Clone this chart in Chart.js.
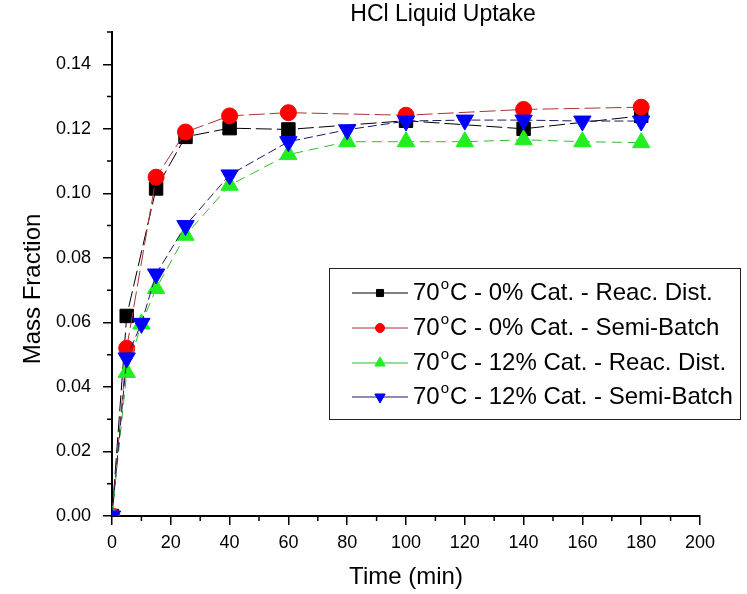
<!DOCTYPE html>
<html>
<head>
<meta charset="utf-8">
<script src="https://cdn.jsdelivr.net/npm/chart.js@4.4.1/dist/chart.umd.min.js"></script>
<style>
  html, body { margin: 0; padding: 0; background: #fff; }
</style>
</head>
<body>
<canvas id="grafico" width="747" height="594"></canvas>
<script>
// Datos (tiempo en min, fraccion masica)
const tiempoNegro = [0, 5, 15, 25, 40, 60, 100, 140, 180];
const masaNegro = [0, 0.062, 0.1015, 0.1175, 0.1202, 0.1198, 0.1225, 0.1200, 0.1240];

const tiempoRojo = [0, 5, 15, 25, 40, 60, 100, 140, 180];
const masaRojo = [0, 0.052, 0.105, 0.119, 0.124, 0.125, 0.1242, 0.126, 0.1267];

const tiempoVerde = [0, 5, 10, 15, 25, 40, 60, 80, 100, 120, 140, 160, 180];
const masaVerde = [0, 0.0445, 0.0595, 0.0705, 0.087, 0.1025, 0.112, 0.116, 0.116, 0.116, 0.1166, 0.116, 0.1157];

const tiempoAzul = [0, 5, 10, 15, 25, 40, 60, 80, 100, 120, 140, 160, 180];
const masaAzul = [0, 0.049, 0.0597, 0.075, 0.090, 0.1057, 0.116, 0.1197, 0.1224, 0.1227, 0.1227, 0.1224, 0.1224];

const nombres = [
  'C - 0% Cat. - Reac. Dist.',
  'C - 0% Cat. - Semi-Batch',
  'C - 12% Cat. - Reac. Dist.',
  'C - 12% Cat. - Semi-Batch'
];
const marcasX = [0, 20, 40, 60, 80, 100, 120, 140, 160, 180, 200];
const menoresX = [10, 30, 50, 70, 90, 110, 130, 150, 170, 190];
const marcasY = [0, 0.02, 0.04, 0.06, 0.08, 0.10, 0.12, 0.14];
const menoresY = [0.01, 0.03, 0.05, 0.07, 0.09, 0.11, 0.13, 0.15];

const FUENTE = '"Liberation Sans", Arial, sans-serif';

// Estilo de cada serie
const estilos = [
  { punto: 'rect', rot: 0, relleno: '#000000', linea: '#000000', guion: [16, 5], radio: 9.5, radioLeyenda: 5, orden: 4 },
  { punto: 'circle', rot: 0, relleno: '#ff0000', linea: '#a83232', guion: [16, 5], radio: 8, radioLeyenda: 4.5, orden: 3 },
  { punto: 'triangle', rot: 0, relleno: '#22ee22', linea: '#33bb33', guion: [10, 6], radio: 10, radioLeyenda: 6, orden: 2 },
  { punto: 'triangle', rot: 180, relleno: '#0000ff', linea: '#1a1a66', guion: [9, 4], radio: 10, radioLeyenda: 6, orden: 1 }
];

const tiempos = [tiempoNegro, tiempoRojo, tiempoVerde, tiempoAzul];
const masas = [masaNegro, masaRojo, masaVerde, masaAzul];

const datasets = estilos.map((e, i) => ({
  label: '70°' + nombres[i],
  data: tiempos[i].map((t, k) => ({ x: t, y: masas[i][k] })),
  showLine: true,
  borderColor: e.linea,
  borderWidth: 1,
  borderDash: e.guion,
  pointStyle: e.punto,
  pointRotation: e.rot,
  pointRadius: e.radio,
  pointHoverRadius: e.radio,
  pointBackgroundColor: e.relleno,
  pointBorderColor: e.relleno,
  pointBorderWidth: 1,
  order: e.orden,
  clip: 0
}));

// Titulo, eje Y, marcas menores y leyenda
const decoraciones = {
  id: 'decoraciones',
  afterDraw(chart) {
    const ctx = chart.ctx;
    const { x, y } = chart.scales;
    ctx.save();
    ctx.fillStyle = '#000';
    ctx.textAlign = 'center';
    ctx.textBaseline = 'middle';
    ctx.font = '23px ' + FUENTE;
    ctx.fillText('HCl Liquid Uptake', 443, 15);

    ctx.save();
    ctx.translate(33, 289);
    ctx.rotate(-Math.PI / 2);
    ctx.font = '24px ' + FUENTE;
    ctx.fillText('Mass Fraction', 0, 0);
    ctx.restore();

    // marcas menores
    ctx.strokeStyle = '#000';
    ctx.lineWidth = 1.5;
    ctx.beginPath();
    menoresX.forEach(v => {
      const px = x.getPixelForValue(v);
      ctx.moveTo(px, y.bottom);
      ctx.lineTo(px, y.bottom + 5);
    });
    menoresY.forEach(v => {
      const py = y.getPixelForValue(v);
      ctx.moveTo(x.left, py);
      ctx.lineTo(x.left - 5, py);
    });
    ctx.stroke();

    // leyenda
    ctx.lineWidth = 1;
    ctx.strokeStyle = '#222';
    ctx.strokeRect(329.5, 268.5, 411, 151);
    const filas = [293, 328, 363, 397];
    estilos.forEach((e, i) => {
      const fy = filas[i];
      ctx.strokeStyle = e.linea;
      ctx.setLineDash([]);
      ctx.beginPath();
      ctx.moveTo(352, fy);
      ctx.lineTo(408, fy);
      ctx.stroke();
      ctx.fillStyle = e.relleno;
      ctx.strokeStyle = e.relleno;
      Chart.helpers.drawPoint(ctx, {
        pointStyle: e.punto, rotation: e.rot, radius: e.radioLeyenda, borderWidth: 1
      }, 380, fy);
      ctx.fillStyle = '#000';
      ctx.textAlign = 'left';
      ctx.textBaseline = 'middle';
      ctx.font = '24px ' + FUENTE;
      let tx = 413;
      ctx.fillText('70', tx, fy);
      tx += ctx.measureText('70').width + 1;
      ctx.font = '15px ' + FUENTE;
      ctx.fillText('o', tx, fy - 8);
      tx += ctx.measureText('o').width + 1;
      ctx.font = '24px ' + FUENTE;
      ctx.fillText(nombres[i], tx, fy);
    });
    ctx.restore();
  }
};

new Chart(document.getElementById('grafico'), {
  type: 'scatter',
  data: { datasets },
  plugins: [decoraciones],
  options: {
    responsive: false,
    animation: false,
    events: [],
    layout: { padding: { top: 32, right: 47, left: 0, bottom: 0 } },
    plugins: {
      legend: { display: false },
      title: { display: false },
      tooltip: { enabled: false }
    },
    scales: {
      x: {
        type: 'linear',
        min: 0,
        max: 200,
        afterFit: s => { s.height = 78; },
        afterBuildTicks: s => { s.ticks = marcasX.map(v => ({ value: v })); },
        grid: { drawOnChartArea: false, drawTicks: true, tickLength: 9, color: '#000', lineWidth: 1.5 },
        border: { display: true, color: '#000', width: 2 },
        ticks: { color: '#000', font: { family: FUENTE, size: 18 }, padding: 7, maxRotation: 0, callback: v => String(v) },
        title: { display: true, text: 'Time (min)', color: '#000', font: { family: FUENTE, size: 24 }, padding: { top: 0, bottom: 2 } }
      },
      y: {
        type: 'linear',
        min: 0,
        max: 0.15,
        afterFit: s => { s.width = 112; },
        afterBuildTicks: s => { s.ticks = marcasY.map(v => ({ value: v })); },
        grid: { drawOnChartArea: false, drawTicks: true, tickLength: 9, color: '#000', lineWidth: 1.5 },
        border: { display: true, color: '#000', width: 2 },
        ticks: { color: '#000', font: { family: FUENTE, size: 18 }, padding: 12, callback: v => Number(v).toFixed(2) }
      }
    }
  }
});
</script>
</body>
</html>
